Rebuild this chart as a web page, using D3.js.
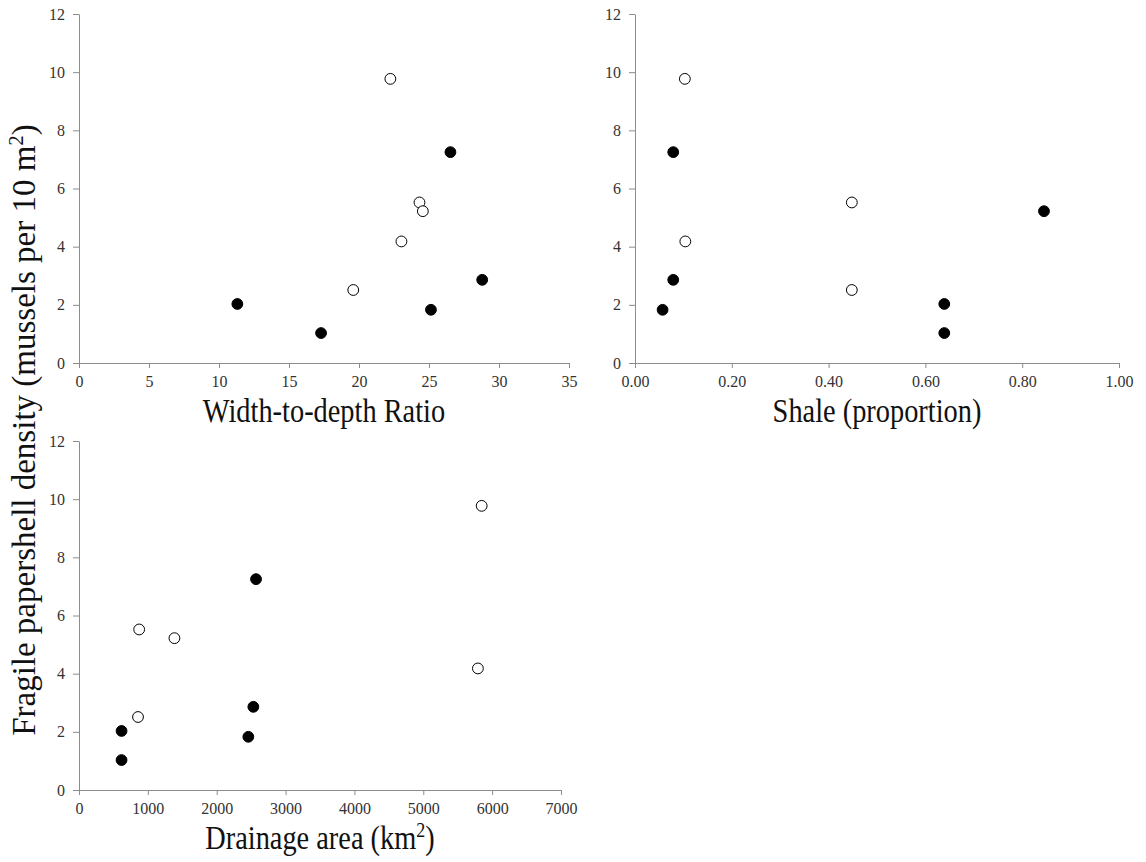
<!DOCTYPE html>
<html>
<head>
<meta charset="utf-8">
<script src="https://cdn.jsdelivr.net/npm/d3@7"></script>
<style>
  body { margin: 0; background: #fff; }
</style>
</head>
<body>
<svg id="chart" width="1146" height="862"></svg>
<script>
var serif = "'Liberation Serif', 'Times New Roman', serif";

// fragile papershell density, one value per site
var density = [9.77, 5.52, 5.22, 4.18, 2.51, 7.25, 2.86, 1.83, 2.03, 1.03];
var widthDepth = [22.24, 24.32, 24.56, 23.03, 19.59, 26.53, 28.8, 25.14, 11.31, 17.29];
var shale = [0.103, 0.448, 0.845, 0.104, 0.448, 0.079, 0.079, 0.057, 0.639, 0.639];
var drainage = [5848, 874, 1386, 5793, 857, 2571, 2532, 2459, 618, 618];
// open (true) or filled (false) marker
var openWD = [true, true, true, true, true, false, false, false, false, false];
var openShale = [true, true, false, true, true, false, false, false, false, false];
var openDrain = [true, true, true, true, true, false, false, false, false, false];

var yTicks = [0, 2, 4, 6, 8, 10, 12];
var wdTicks = [0, 5, 10, 15, 20, 25, 30, 35];
var shaleTicks = [0, 0.2, 0.4, 0.6, 0.8, 1.0];
var drainTicks = [0, 1000, 2000, 3000, 4000, 5000, 6000, 7000];

var svg = d3.select("#chart");

function styleAxis(g) {
  g.attr("font-family", serif).attr("font-size", 16);
  g.selectAll("text")
    .attr("fill", "#333")
    .style("font-family", serif);
  g.select(".domain").attr("stroke", "#8c8c8c");
  g.selectAll(".tick line").attr("stroke", "#8c8c8c");
}

function panel(opt) {
  var x = d3.scaleLinear().domain(opt.xDomain).range([opt.left, opt.right]);
  var y = d3.scaleLinear().domain([0, 12]).range([opt.bottom, opt.top]);

  svg.append("g")
    .attr("transform", "translate(0," + opt.bottom + ")")
    .call(d3.axisBottom(x).tickValues(opt.xTicks).tickSize(5).tickSizeOuter(0)
      .tickPadding(8).tickFormat(opt.fmt))
    .call(styleAxis);

  svg.append("g")
    .attr("transform", "translate(" + opt.left + ",0)")
    .call(d3.axisLeft(y).tickValues(yTicks).tickSize(6).tickSizeOuter(0)
      .tickPadding(8))
    .call(styleAxis);

  var pts = opt.xs.map(function(v, i) {
    return { x: v, y: density[i], open: opt.open[i] };
  });
  svg.append("g").selectAll("circle")
    .data(pts)
    .enter().append("circle")
    .attr("cx", function(d) { return x(d.x); })
    .attr("cy", function(d) { return y(d.y); })
    .attr("r", 5.4)
    .attr("fill", function(d) { return d.open ? "#fff" : "#000"; })
    .attr("stroke", "#000")
    .attr("stroke-width", 1);

  // axis title, squeezed sideways like the original
  var t = svg.append("g")
    .attr("transform", "translate(" + ((opt.left + opt.right) / 2) + "," + opt.titleY + ") scale(0.86,1)")
    .append("text")
    .attr("text-anchor", "middle")
    .style("font-family", serif)
    .attr("font-size", 33)
    .attr("fill", "#111");
  t.append("tspan").text(opt.title);
  if (opt.sup) {
    t.append("tspan").attr("font-size", 21).attr("dy", -12).text(opt.sup);
    t.append("tspan").attr("dy", 12).text(opt.after);
  }
}

panel({ xDomain: [0, 35], xTicks: wdTicks, fmt: d3.format("d"), left: 79, right: 569,
  top: 14, bottom: 363, xs: widthDepth, open: openWD, title: "Width-to-depth Ratio", titleY: 422 });

panel({ xDomain: [0, 1], xTicks: shaleTicks, fmt: d3.format(".2f"), left: 635, right: 1119,
  top: 14, bottom: 363, xs: shale, open: openShale, title: "Shale (proportion)", titleY: 422 });

panel({ xDomain: [0, 7000], xTicks: drainTicks, fmt: d3.format("d"), left: 79, right: 561,
  top: 441, bottom: 790, xs: drainage, open: openDrain, title: "Drainage area (km", sup: "2", after: ")", titleY: 849 });

// shared y label
var yl = svg.append("text")
  .attr("transform", "translate(35,430) rotate(-90)")
  .attr("text-anchor", "middle")
  .style("font-family", serif)
  .attr("font-size", 33)
  .attr("fill", "#111");
yl.append("tspan").text("Fragile papershell density (mussels per 10 m");
yl.append("tspan").attr("font-size", 21).attr("dy", -12).text("2");
yl.append("tspan").attr("dy", 12).text(")");
</script>
</body>
</html>
